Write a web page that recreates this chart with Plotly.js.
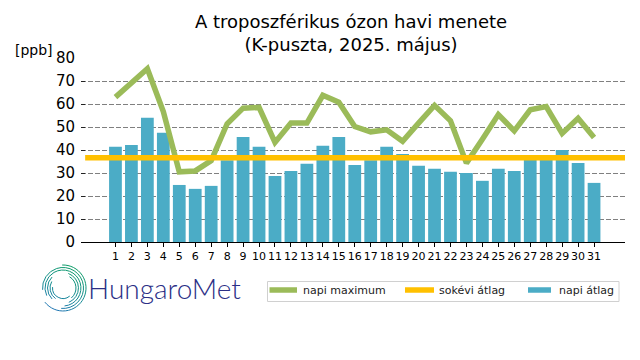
<!DOCTYPE html>
<html><head><meta charset="utf-8">
<script src="https://cdn.plot.ly/plotly-3.0.1.min.js"></script>
<style>html,body{margin:0;padding:0;background:#fff}#c{width:640px;height:360px}</style>
</head><body><div id="c"></div>
<script>
const days=[1,2,3,4,5,6,7,8,9,10,11,12,13,14,15,16,17,18,19,20,21,22,23,24,25,26,27,28,29,30,31];
const dailyMean=[41.4,42.2,54,47.5,24.8,23.1,24.4,35.5,45.7,41.4,28.7,30.9,34,41.8,45.7,33.5,35.5,41.4,38.3,33.1,31.8,30.5,30,26.6,31.8,30.9,36,37.7,40,34.4,25.7];
const dailyMax=[63,68.8,75.3,56.7,30.5,30.9,35.4,51.4,58.2,58.5,43.3,51.7,51.7,63.8,60.8,50.2,47.9,48.8,43.8,51.7,59.4,52.7,34.3,44.7,55.4,48.3,57.5,58.9,47.2,53.8,45.4];
const longTermX=[-0.9,32.94];
const longTermY=[36.6,36.6];
const font='"DejaVu Sans"';
const C={max:'#9BBB59',lt:'#FFC000',mean:'#4BACC6'};
const W=544,H=184,L=81,B=242;
const px=x=>(x-L)/W, py=y=>(B-y)/H;
function arc(r,a0,a1){const p=(a)=>[50+r*Math.cos(a*Math.PI/180),50+r*Math.sin(a*Math.PI/180)];
 const s=p(a0),e=p(a1);const large=Math.abs(a1-a0)>180?1:0;const sw=a1>a0?1:0;return `M${s[0].toFixed(1)} ${s[1].toFixed(1)}A${r} ${r} 0 ${large} ${sw} ${e[0].toFixed(1)} ${e[1].toFixed(1)}`;}
let arcs='';
[[46,-92,142],[41,-108,95],[36,-120,85],[31,-70,68],[26,-60,50],
 [41,-108,-185],[36,-120,-205],[31,-135,-225],[26,-150,-235],[21,-175,-310]].forEach(a=>{arcs+=`<path d="${arc(a[0],a[1],a[2])}" fill="none" stroke="url(#g)" stroke-width="2"/>`;});
const logo='data:image/svg+xml;utf8,'+encodeURIComponent(`<svg xmlns="http://www.w3.org/2000/svg" width="100" height="100" viewBox="0 0 100 100"><defs><linearGradient id="g" gradientUnits="userSpaceOnUse" x1="72" y1="5" x2="28" y2="98"><stop offset="0" stop-color="#0a9c62"/><stop offset="0.55" stop-color="#128a92"/><stop offset="1" stop-color="#2272b8"/></linearGradient></defs>${arcs}</svg>`);
const data=[
 {type:'bar',name:'napi átlag',x:days,y:dailyMean,width:0.8,marker:{color:C.mean,line:{width:0}}},
 {type:'scatter',mode:'lines',name:'napi maximum',x:days,y:dailyMax,line:{color:C.max,width:5.5}},
 {type:'scatter',mode:'lines',name:'sokévi átlag',x:longTermX,y:longTermY,line:{color:C.lt,width:5.5}}
];
const lineSw=(x0,x1,c)=>({type:'line',xref:'paper',yref:'paper',x0:px(x0),x1:px(x1),y0:py(290),y1:py(290),line:{color:c,width:5.5}});
const legText=(t,x)=>({text:t,xref:'paper',yref:'paper',x:px(x),y:py(290.5),xanchor:'left',yanchor:'middle',showarrow:false,borderpad:0,font:{size:11,family:font,color:'#222'}});
const layout={
 width:640,height:360,margin:{l:L,r:15,t:58,b:118},
 paper_bgcolor:'#fff',plot_bgcolor:'#fff',
 font:{family:font,color:'#000'},
 showlegend:false,
 title:{text:'A troposzférikus ózon havi menete<br>(K-puszta, 2025. május)',font:{size:18,family:font,color:'#000'},x:351/640,xanchor:'center',y:0.923,yanchor:'top'},
 xaxis:{range:[-1.16,32.94],tickmode:'array',tickvals:days,ticktext:days.map(String),tickangle:0,tickfont:{size:11,family:font},ticks:'outside',ticklen:4,tickcolor:'#000',showgrid:false,showline:true,linecolor:'#000',linewidth:1,zeroline:false,fixedrange:true},
 yaxis:{range:[0,80],tickvals:[0,10,20,30,40,50,60,70,80],tickfont:{size:15,family:font},ticks:'inside',ticklen:4,tickcolor:'#222',ticklabelstandoff:5,showline:false,showgrid:true,gridcolor:'#808080',griddash:'5px,2px',gridwidth:1,zeroline:false,fixedrange:true},
 shapes:[
  {type:'rect',xref:'paper',yref:'paper',x0:px(267.5),x1:px(619),y0:py(281.5),y1:py(301.5),line:{color:'#d0d0d0',width:1},fillcolor:'#fff'},
  lineSw(269.5,297,C.max),lineSw(405,434,C.lt),lineSw(528,551,C.mean)
 ],
 annotations:[
  {text:'[ppb]',xref:'paper',yref:'paper',x:px(33.5),y:py(50),xanchor:'center',yanchor:'middle',showarrow:false,font:{size:14,family:font,color:'#000'}},
  {text:'HungaroMet',xref:'paper',yref:'paper',x:px(85.5),y:py(288),xanchor:'left',yanchor:'middle',showarrow:false,font:{size:28,family:'Lato',weight:300,color:'#2B2F86'}},
  legText('napi maximum',301.5),legText('sokévi átlag',437.5),legText('napi átlag',557.5)
 ],
 images:[{source:logo,xref:'paper',yref:'paper',x:px(38),y:py(263),sizex:50/W,sizey:50/H,xanchor:'left',yanchor:'top',sizing:'stretch',layer:'above'}]
};
Plotly.newPlot('c',data,layout,{staticPlot:true,displayModeBar:false});
</script></body></html>
